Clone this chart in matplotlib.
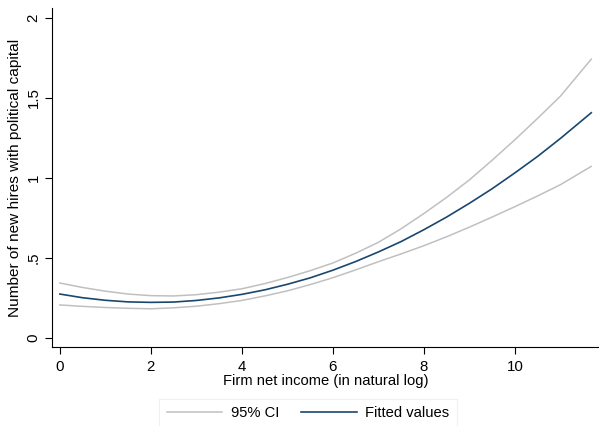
import numpy as np
import matplotlib.pyplot as plt

plt.rcParams['font.family'] = ['Liberation Sans', 'DejaVu Sans']

# values
income = [0, 0.5, 1, 1.5, 2, 2.5, 3, 3.5, 4, 4.5, 5, 5.5, 6, 6.5, 7, 7.5,
          8, 8.5, 9, 9.5, 10, 10.5, 11, 11.68]
fitted = [0.272, 0.249, 0.233, 0.223, 0.220, 0.222, 0.232, 0.248, 0.270, 0.298,
          0.333, 0.373, 0.421, 0.475, 0.535, 0.600, 0.674, 0.753, 0.839, 0.930,
          1.029, 1.132, 1.244, 1.405]
ci_upper = [0.341, 0.313, 0.290, 0.272, 0.262, 0.260, 0.268, 0.284, 0.305, 0.337,
            0.375, 0.418, 0.466, 0.527, 0.595, 0.680, 0.775, 0.876, 0.985, 1.108,
            1.236, 1.370, 1.508, 1.740]
ci_lower = [0.204, 0.195, 0.188, 0.183, 0.180, 0.186, 0.196, 0.212, 0.232, 0.260,
            0.292, 0.331, 0.374, 0.423, 0.474, 0.523, 0.574, 0.630, 0.690, 0.753,
            0.818, 0.885, 0.955, 1.070]

xticks = [0, 2, 4, 6, 8, 10]
yticks = [0, 0.5, 1, 1.5, 2]
ylabels = ['0', '.5', '1', '1.5', '2']

gray = '#c0c0c0'
navy = '#1a476f'

fig = plt.figure(figsize=(5.99, 4.26), dpi=100)
ax = fig.add_axes([0.0863, 0.1854, 0.9137, 0.7956])

ax.plot(income, ci_upper, color=gray, lw=1.1, label='95% CI')
ax.plot(income, ci_lower, color=gray, lw=1.1)
ax.plot(income, fitted, color=navy, lw=1.2, label='Fitted values')

ax.set_xlim(-0.18, 11.85)
ax.set_ylim(-0.059, 2.059)
ax.set_xticks(xticks)
ax.set_yticks(yticks)
ax.set_yticklabels(ylabels, rotation=90, va='center')
ax.tick_params(axis='both', labelsize=10.8, length=5, width=0.8, color='black')
ax.tick_params(axis='y', pad=3)
ax.tick_params(axis='x', pad=4)

for s in ['top', 'right']:
    ax.spines[s].set_visible(False)
for s in ['left', 'bottom']:
    ax.spines[s].set_linewidth(0.8)

ax.set_xlabel('Firm net income (in natural log)', fontsize=10.6, labelpad=0.5)
ax.set_ylabel('Number of new hires with political capital', fontsize=11.1, labelpad=3)

leg = fig.legend(loc='upper center', bbox_to_anchor=(0.514, 0.0634), ncol=2,
                 fontsize=10.6, frameon=True, fancybox=False, handlelength=3.8,
                 handletextpad=0.55, columnspacing=1.5, borderpad=0.5,
                 borderaxespad=0)
leg.get_frame().set_edgecolor('#e8eeee')
leg.get_frame().set_linewidth(0.8)

fig.savefig('out.png', dpi=100)
